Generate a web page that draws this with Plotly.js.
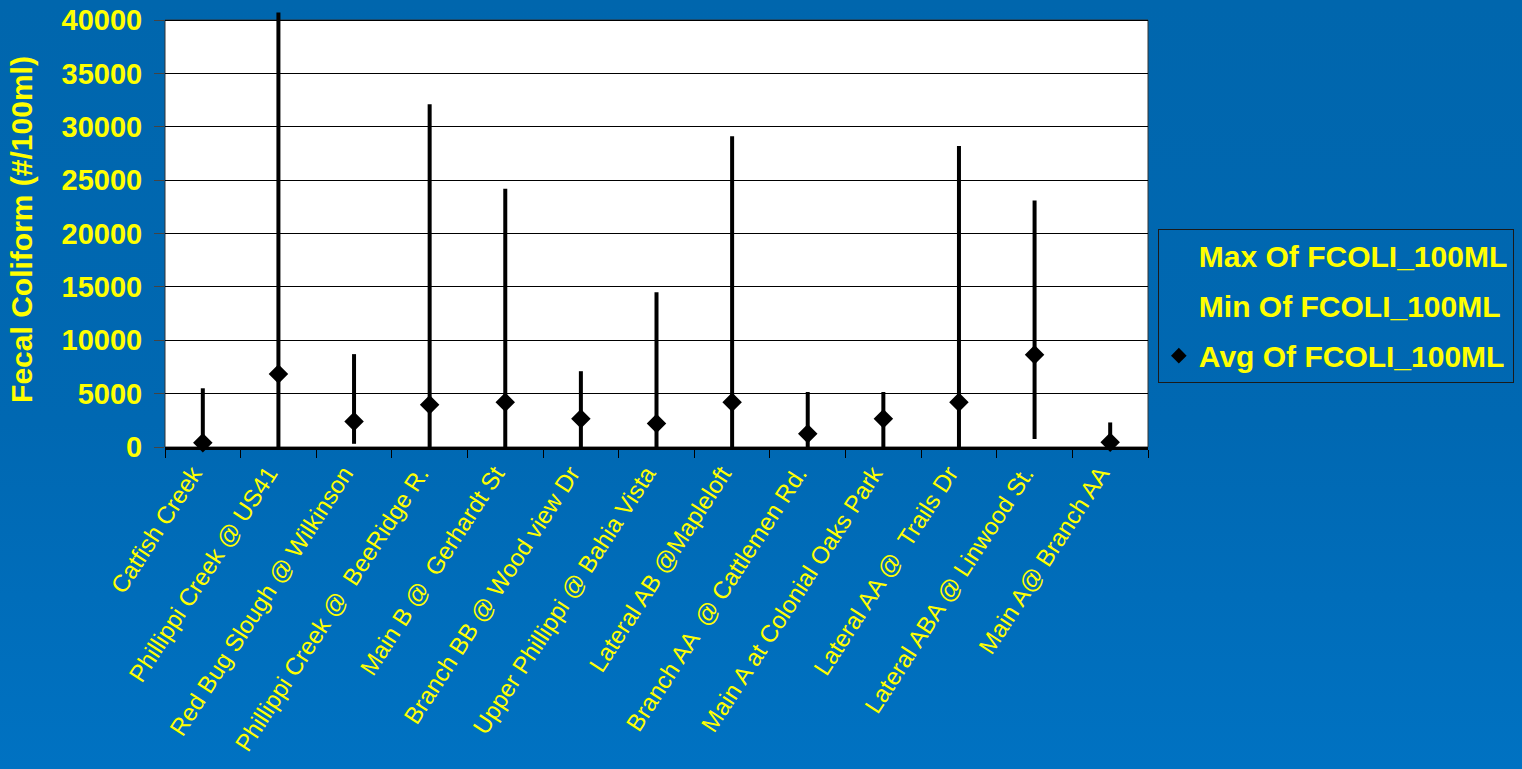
<!DOCTYPE html>
<html>
<head>
<meta charset="utf-8">
<script src="https://cdn.plot.ly/plotly-3.0.1.min.js"></script>
<style>
  html, body { margin: 0; padding: 0; width: 1522px; height: 769px; overflow: hidden;
    background: linear-gradient(to bottom, #0066AD 0%, #0068B2 55%, #0072C2 100%); }
  #chart { width: 1522px; height: 769px; }
</style>
</head>
<body>
<div id="chart"></div>
<script>
const categories = [
  "Catfish Creek",
  "Phillippi Creek @ US41",
  "Red Bug Slough @ Wilkinson",
  "Phillippi Creek @  BeeRidge R.",
  "Main B @  Gerhardt St",
  "Branch BB @ Wood view Dr",
  "Upper Phillippi @ Bahia Vista",
  "Lateral AB @Mapleloft",
  "Branch AA  @ Cattlemen Rd.",
  "Main A at Colonial Oaks Park",
  "Lateral AA @  Trails Dr",
  "Lateral ABA @ Linwood St.",
  "Main A@ Branch AA"
];
const maxValues = [5500, 40700, 8700, 32100, 24200, 7100, 14500, 29100, 5150, 5150, 28200, 23100, 2300];
const minValues = [0, 0, 300, 0, 0, 0, 0, 0, 0, 0, 0, 750, 0];
const avgValues = [400, 6850, 2400, 3950, 4200, 2650, 2200, 4200, 1250, 2650, 4200, 8650, 450];
const seriesNames = ["Max Of FCOLI_100ML", "Min Of FCOLI_100ML", "Avg Of FCOLI_100ML"];

// high-low lines built from max/min arrays
const hlX = [], hlY = [];
categories.forEach((c, i) => { hlX.push(c, c, null); hlY.push(minValues[i], maxValues[i], null); });

const yellow = "#FFFF00";
const fontFam = "Liberation Sans, Arial, sans-serif";

const traces = [
  { x: hlX, y: hlY, type: "scatter", mode: "lines", line: { color: "#000", width: 4 },
    showlegend: false, hoverinfo: "skip", connectgaps: false },
  { x: categories, y: maxValues, type: "scatter", mode: "markers", name: seriesNames[0],
    marker: { size: 1, color: "rgba(0,0,0,0)" }, legendgroup: "a" },
  { x: categories, y: minValues, type: "scatter", mode: "markers", name: seriesNames[1],
    marker: { size: 1, color: "rgba(0,0,0,0)" }, legendgroup: "b" },
  { x: categories, y: avgValues, type: "scatter", mode: "markers", name: seriesNames[2],
    marker: { symbol: "diamond", size: 15, color: "#000" }, legendgroup: "c", cliponaxis: false }
];

const layout = {
  width: 1522, height: 769,
  paper_bgcolor: "rgba(0,0,0,0)",
  plot_bgcolor: "rgba(0,0,0,0)",
  margin: { l: 165, r: 374, t: 12, b: 322, autoexpand: false },
  font: { family: fontFam, color: yellow },
  showlegend: true,
  legend: {
    x: 1.01, xanchor: "left", y: 0.502, yanchor: "top",
    bordercolor: "#1a1a1a", borderwidth: 1, bgcolor: "rgba(0,0,0,0)",
    font: { size: 30, color: yellow, family: fontFam, weight: "bold" },
    tracegroupgap: 8, traceorder: "grouped", itemsizing: "constant"
  },
  xaxis: {
    type: "category", categoryorder: "array", categoryarray: categories,
    tickson: "boundaries", ticks: "outside", ticklen: 8, tickcolor: "#000", tickwidth: 1,
    showgrid: false, showline: true, linecolor: "#000", linewidth: 3,
    tickangle: -57, tickfont: { size: 24, color: yellow, family: fontFam },
    ticklabelshift: -10,
    range: [-0.5, 12.5], fixedrange: true
  },
  yaxis: {
    range: [0, 40750], dtick: 5000, tick0: 0, tickformat: "d",
    ticks: "outside", ticklen: 10, tickcolor: "#444", tickwidth: 1, ticklabelstandoff: 6,
    showgrid: true, gridcolor: "#000", gridwidth: 1, zeroline: false, showline: false,
    tickfont: { size: 29, color: yellow, family: fontFam, weight: "bold" },
    title: { text: "Fecal Coliform (#/100ml)", standoff: 20,
      font: { size: 30, color: yellow, family: fontFam, weight: "bold" } },
    fixedrange: true
  },
  shapes: [
    { type: "rect", xref: "paper", yref: "y", x0: 0, x1: 1, y0: 0, y1: 40000,
      fillcolor: "#FFFFFF", line: { color: "#333", width: 1 }, layer: "below" }
  ]
};

Plotly.newPlot("chart", traces, layout, { displayModeBar: false, staticPlot: true });
</script>
</body>
</html>
